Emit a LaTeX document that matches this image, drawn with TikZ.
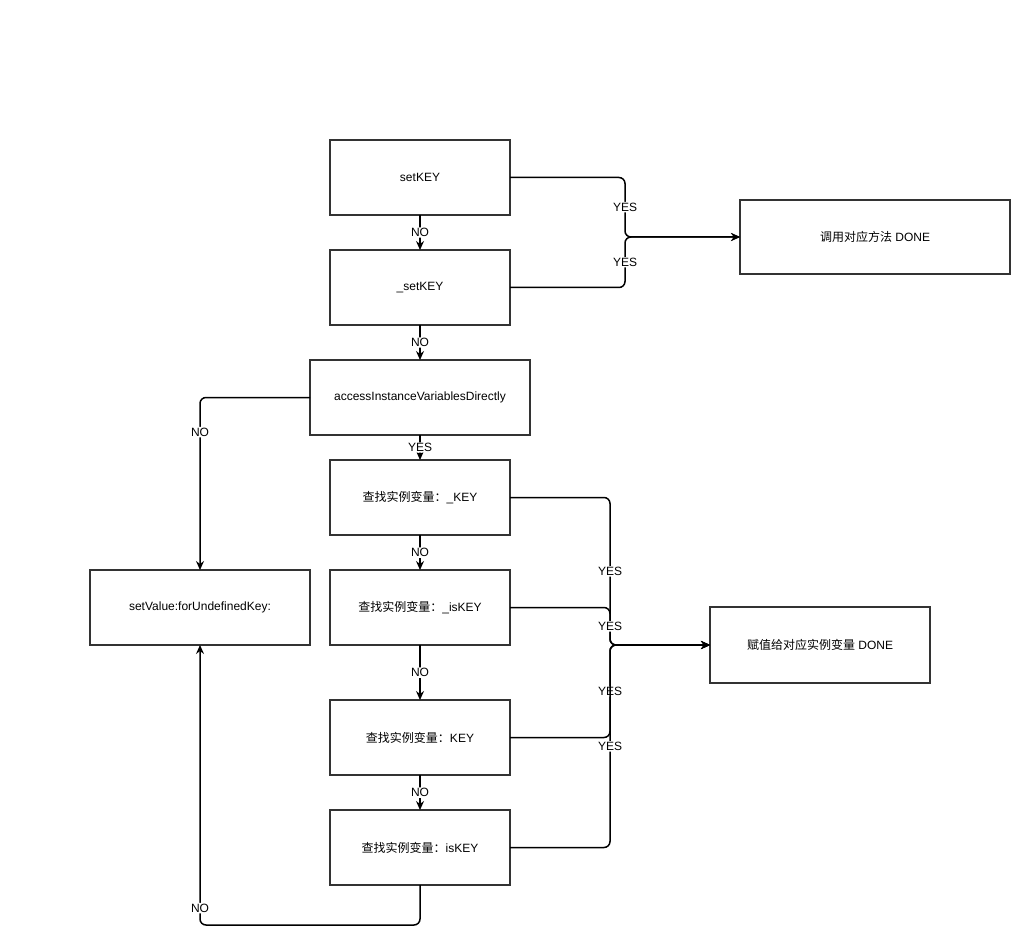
\documentclass[tikz,border=0pt]{standalone}
\usepackage{fontspec}
\setmainfont{Liberation Sans}
\newfontfamily\cjk{Noto Sans CJK SC}
\usepackage{tikz}
\usetikzlibrary{arrows.meta, positioning}

\begin{document}
\begin{tikzpicture}[x=1pt, y=-1pt,
  box/.style={draw=black!80, line width=1.5pt, minimum width=180pt, minimum height=75pt,
    inner sep=0pt, outer sep=0pt, align=center, font=\fontsize{12}{14}\selectfont},
  widebox/.style={box, minimum width=220pt},
  edge/.style={draw=black, line width=1.5pt, rounded corners=6pt,
    -{Stealth[length=9pt, width=8pt, inset=3pt]}},
  lbl/.style={fill=white, inner sep=1pt, font=\fontsize{12}{14}\selectfont}]
  % canvas
  \path[fill=white, use as bounding box] (0,0) rectangle (1030,949);

  % main column of lookups
  \node[box] (setkey) at (420,177.5) {setKEY};
  \node[box, below=35pt of setkey] (usetkey) {\_setKEY};
  \node[widebox, below=35pt of usetkey] (access) {accessInstanceVariablesDirectly};
  \node[box, below=25pt of access] (ukey) {{\cjk 查找实例变量：}\_KEY};
  \node[box, below=35pt of ukey] (uiskey) {{\cjk 查找实例变量：}\_isKEY};
  \node[box, below=55pt of uiskey] (key) {{\cjk 查找实例变量：}KEY};
  \node[box, below=35pt of key] (iskey) {{\cjk 查找实例变量：}isKEY};

  % results
  \node[widebox] (undef) at (200,607.5) {setValue:forUndefinedKey:};
  \node[box, minimum width=270pt, minimum height=74pt] (calldone) at (875,237) {{\cjk 调用对应方法} DONE};
  \node[widebox, minimum height=76pt] (setdone) at (820,645) {{\cjk 赋值给对应实例变量} DONE};

  % NO chain
  \draw[edge] (setkey) -- node[lbl] {NO} (usetkey);
  \draw[edge] (usetkey) -- node[lbl] {NO} (access);
  \draw[edge] (access) -- node[lbl] {YES} (ukey);
  \draw[edge] (ukey) -- node[lbl] {NO} (uiskey);
  \draw[edge] (uiskey) -- node[lbl] {NO} (key);
  \draw[edge] (key) -- node[lbl] {NO} (iskey);

  % method found
  \coordinate (callfork) at (625,237);
  \draw[edge] (setkey.east) -| node[lbl, pos=0.75] {YES} (callfork) -- (calldone.west);
  \draw[edge] (usetkey.east) -| node[lbl, pos=0.75] {YES} (callfork) -- (calldone.west);

  % ivar found
  \coordinate (setfork) at (610,645);
  \draw[edge] (ukey.east) -| node[lbl, pos=0.75] {YES} (setfork) -- (setdone.west);
  \draw[edge] (uiskey.east) -| node[lbl, pos=0.75] {YES} (setfork) -- (setdone.west);
  \draw[edge] (key.east) -| node[lbl, pos=0.75] {YES} (setfork) -- (setdone.west);
  \draw[edge] (iskey.east) -| node[lbl, pos=0.75] {YES} (setfork) -- (setdone.west);

  % undefined key
  \draw[edge] (access.west) -| node[lbl, pos=0.6] {NO} (undef.north);
  \draw[edge] (iskey.south) -- ++(0,40) -| node[lbl, pos=0.53] {NO} (undef.south);
\end{tikzpicture}
\end{document}
